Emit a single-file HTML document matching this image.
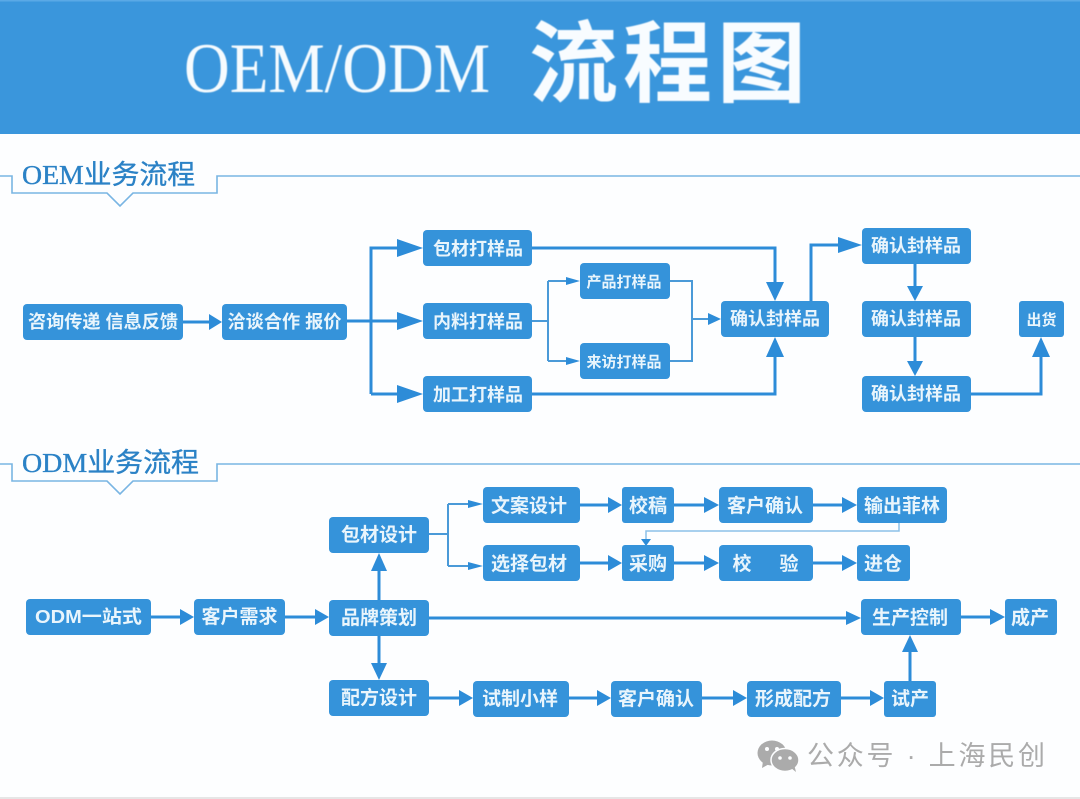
<!DOCTYPE html>
<html lang="zh">
<head>
<meta charset="utf-8">
<style>
html,body{margin:0;padding:0;background:#fdfeff;}
svg{display:block;}
.b{fill:#3593da;}
.t{fill:#e9f5fc;font-family:"Liberation Sans","Noto Sans CJK SC",sans-serif;font-size:18px;font-weight:700;text-anchor:middle;filter:blur(.35px);}
.l{fill:none;stroke:#2d8cd8;stroke-width:3;}
.n{fill:none;stroke:#4a9ad8;stroke-width:2;}
.h{fill:#2d8cd8;}
.s{fill:none;stroke:#79b5e3;stroke-width:1.6;}
.c{fill:#2b82c6;stroke:#2b82c6;stroke-width:.35;font-family:"Liberation Serif","Noto Sans CJK SC",sans-serif;font-size:27px;filter:blur(.3px);}
</style>
</head>
<body>
<svg width="1080" height="799" viewBox="0 0 1080 799" xmlns="http://www.w3.org/2000/svg">
<rect width="1080" height="799" fill="#fdfeff"/>
<rect width="1080" height="134" fill="#3a96dc"/>
<rect width="1080" height="1.5" fill="#5aa9e6"/>
<text transform="translate(184,92) scale(1,1.12)" textLength="306" lengthAdjust="spacingAndGlyphs" font-family="Liberation Serif" font-size="63" fill="#f6fbfe" style="filter:blur(.4px)">OEM/ODM</text>
<text x="529" y="95" textLength="277" lengthAdjust="spacing" font-family="Noto Sans CJK SC" font-weight="700" font-size="89" fill="#f8fcff" style="filter:blur(.4px)">流程图</text>

<!-- section headers -->
<path class="s" d="M0 176H12V193H107L120 206L133 193H217V176H1080"/>
<text class="c" x="22" y="184" textLength="173" lengthAdjust="spacingAndGlyphs">OEM业务流程</text>
<path class="s" d="M0 464H12V481H107L120 494L133 481H217V464H1080"/>
<text class="c" x="22" y="472" textLength="177" lengthAdjust="spacingAndGlyphs">ODM业务流程</text>

<!-- OEM connectors -->
<path class="l" d="M183 322H210M347 321H400M371 394V248H400M371 394H400M532 248H775V285M532 394H775V355M811 301V245H840M915 263V287M915 337V362M971 394H1041V355"/>
<path class="n" d="M532 321H548M548 281V361M548 281H568M548 361H568M670 281H692V361H670M692 319H710"/>
<polygon class="h" points="209,314 222,322 209,330"/>
<polygon class="h" points="397,239 423,248 397,257"/>
<polygon class="h" points="397,312 423,321 397,330"/>
<polygon class="h" points="397,385 423,394 397,403"/>
<polygon class="h" points="766,282 784,282 775,301"/>
<polygon class="h" points="766,357 784,357 775,337"/>
<polygon class="h" points="838,237 862,245 838,253"/>
<polygon class="h" points="566,277 580,281 566,285"/>
<polygon class="h" points="566,357 580,361 566,365"/>
<polygon class="h" points="708,313 721,319 708,325"/>
<polygon class="h" points="907,286 923,286 915,301"/>
<polygon class="h" points="907,361 923,361 915,376"/>
<polygon class="h" points="1032,357 1050,357 1041,337"/>

<!-- ODM connectors -->
<path class="l" d="M151 617H182M285 617H317M379 600V569M379 636V665M429 618H848M580 505H610M674 505H706M813 505H844M580 563H610M674 563H706M813 563H844M961 617H992M429 698H461M569 698H599M702 698H735M841 698H872M910 681V650"/>
<path class="n" d="M429 534H448M448 504V566M448 504H470M448 566H470"/>
<path d="M899 523V531H646V542" fill="none" stroke="#8cc0e8" stroke-width="1.5"/>
<polygon class="h" points="641,539 651,539 646,546"/>
<polygon class="h" points="180,609 194,617 180,625"/>
<polygon class="h" points="315,609 329,617 315,625"/>
<polygon class="h" points="371,571 387,571 379,553"/>
<polygon class="h" points="371,663 387,663 379,680"/>
<polygon class="h" points="846,611 861,618 846,625"/>
<polygon class="h" points="468,500 483,504 468,508"/>
<polygon class="h" points="468,562 483,566 468,570"/>
<polygon class="h" points="608,497 622,505 608,513"/>
<polygon class="h" points="704,497 719,505 704,513"/>
<polygon class="h" points="842,497 857,505 842,513"/>
<polygon class="h" points="608,555 622,563 608,571"/>
<polygon class="h" points="704,555 719,563 704,571"/>
<polygon class="h" points="842,555 857,563 842,571"/>
<polygon class="h" points="990,609 1005,617 990,625"/>
<polygon class="h" points="459,690 473,698 459,706"/>
<polygon class="h" points="597,690 611,698 597,706"/>
<polygon class="h" points="733,690 747,698 733,706"/>
<polygon class="h" points="870,690 884,698 870,706"/>
<polygon class="h" points="902,652 918,652 910,635"/>

<!-- OEM boxes -->
<rect class="b" x="23" y="304" width="160" height="36" rx="4"/><text class="t" x="103" y="328" textLength="150" lengthAdjust="spacingAndGlyphs">咨询传递 信息反馈</text>
<rect class="b" x="222" y="304" width="125" height="36" rx="4"/><text class="t" x="284.500" y="328" textLength="114" lengthAdjust="spacingAndGlyphs">洽谈合作 报价</text>
<rect class="b" x="423" y="230" width="109" height="36" rx="4"/><text class="t" x="478" y="255">包材打样品</text>
<rect class="b" x="423" y="303" width="109" height="36" rx="4"/><text class="t" x="478" y="328">内料打样品</text>
<rect class="b" x="423" y="376" width="109" height="36" rx="4"/><text class="t" x="478" y="401">加工打样品</text>
<rect class="b" x="580" y="263" width="90" height="36" rx="4"/><text class="t" x="624" y="287" style="font-size:15px">产品打样品</text>
<rect class="b" x="580" y="343" width="90" height="36" rx="4"/><text class="t" x="624" y="367" style="font-size:15px">来访打样品</text>
<rect class="b" x="721" y="301" width="108" height="36" rx="4"/><text class="t" x="775" y="325">确认封样品</text>
<rect class="b" x="862" y="228" width="109" height="36" rx="4"/><text class="t" x="916" y="252">确认封样品</text>
<rect class="b" x="862" y="301" width="109" height="36" rx="4"/><text class="t" x="916" y="325">确认封样品</text>
<rect class="b" x="862" y="376" width="109" height="36" rx="4"/><text class="t" x="916" y="400">确认封样品</text>
<rect class="b" x="1019" y="301" width="45" height="36" rx="3"/><text class="t" x="1041.500" y="325" style="font-size:15px">出货</text>

<!-- ODM boxes -->
<rect class="b" x="26" y="599" width="125" height="36" rx="4"/><text class="t" x="88.500" y="623" textLength="107" lengthAdjust="spacingAndGlyphs">ODM一站式</text>
<rect class="b" x="194" y="599" width="91" height="36" rx="4"/><text class="t" x="239.500" y="623" style="font-size:19px">客户需求</text>
<rect class="b" x="329" y="600" width="100" height="36" rx="4"/><text class="t" x="379" y="624" style="font-size:19px">品牌策划</text>
<rect class="b" x="329" y="517" width="100" height="36" rx="4"/><text class="t" x="379" y="541" style="font-size:19px">包材设计</text>
<rect class="b" x="329" y="680" width="100" height="36" rx="4"/><text class="t" x="379" y="704" style="font-size:19px">配方设计</text>
<rect class="b" x="483" y="487" width="97" height="36" rx="4"/><text class="t" x="529" y="512" style="font-size:19px">文案设计</text>
<rect class="b" x="483" y="545" width="97" height="36" rx="4"/><text class="t" x="529" y="570" style="font-size:19px">选择包材</text>
<rect class="b" x="622" y="487" width="52" height="36" rx="3"/><text class="t" x="648" y="512" style="font-size:19px">校稿</text>
<rect class="b" x="719" y="487" width="94" height="36" rx="4"/><text class="t" x="765" y="512" style="font-size:19px">客户确认</text>
<rect class="b" x="857" y="487" width="90" height="36" rx="4"/><text class="t" x="902" y="512" style="font-size:19px">输出菲林</text>
<rect class="b" x="622" y="545" width="52" height="36" rx="3"/><text class="t" x="648" y="570" style="font-size:19px">采购</text>
<rect class="b" x="719" y="545" width="94" height="36" rx="4"/><text class="t" x="742" y="570" style="font-size:19px">校</text><text class="t" x="789" y="570" style="font-size:19px">验</text>
<rect class="b" x="857" y="545" width="53" height="36" rx="3"/><text class="t" x="883" y="570" style="font-size:19px">进仓</text>
<rect class="b" x="861" y="599" width="100" height="36" rx="4"/><text class="t" x="910" y="624" style="font-size:19px">生产控制</text>
<rect class="b" x="1005" y="599" width="52" height="36" rx="3"/><text class="t" x="1030" y="624" style="font-size:19px">成产</text>
<rect class="b" x="473" y="681" width="96" height="36" rx="4"/><text class="t" x="520" y="705" style="font-size:19px">试制小样</text>
<rect class="b" x="611" y="681" width="91" height="36" rx="4"/><text class="t" x="656" y="705" style="font-size:19px">客户确认</text>
<rect class="b" x="747" y="681" width="94" height="36" rx="4"/><text class="t" x="793" y="705" style="font-size:19px">形成配方</text>
<rect class="b" x="884" y="681" width="52" height="36" rx="3"/><text class="t" x="910" y="705" style="font-size:19px">试产</text>

<!-- watermark -->
<g fill="#ababab">
<ellipse cx="772" cy="753" rx="14.500" ry="12.500"/>
<polygon points="763,761 762,768 771,763"/>
<ellipse cx="785" cy="760" rx="14" ry="11.500" stroke="#fdfeff" stroke-width="1.500"/>
<polygon points="791,768 796,772 794,764"/>
</g>
<g fill="#fdfeff"><circle cx="767" cy="749" r="2"/><circle cx="777" cy="749" r="2"/><circle cx="780" cy="758" r="1.800"/><circle cx="790" cy="758" r="1.800"/></g>
<text x="807" y="765" textLength="238" font-family="Liberation Sans,Noto Sans CJK SC,sans-serif" font-size="27" fill="#ababab">公众号 · 上海民创</text>
<rect y="797" width="1080" height="2" fill="#e6e6e6"/>
</svg>
</body>
</html>
